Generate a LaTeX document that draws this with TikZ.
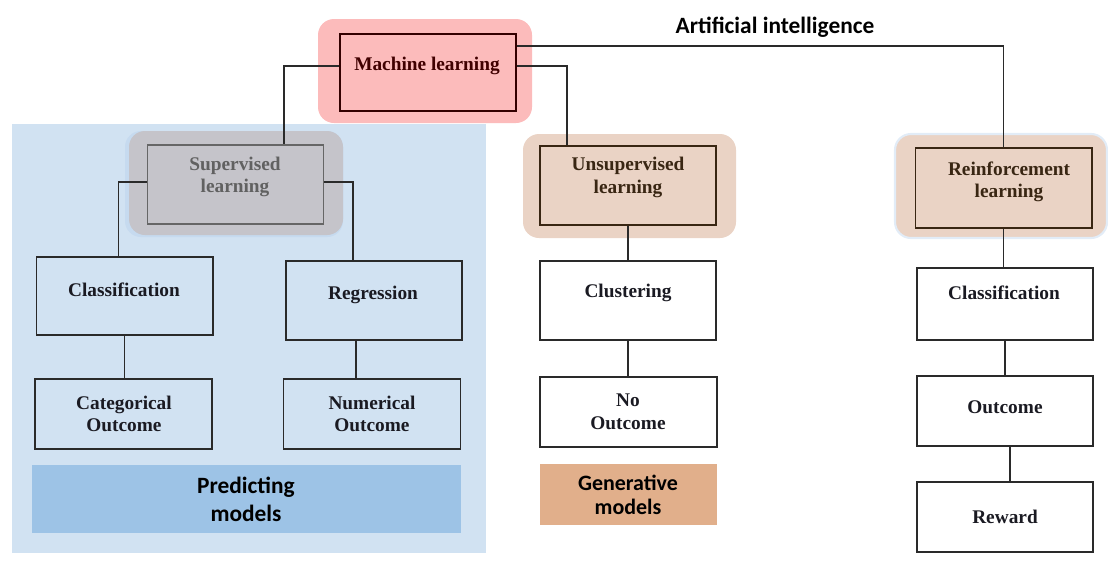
\documentclass[tikz,border=0pt]{standalone}
\usepackage{fontspec}
\setmainfont{Liberation Serif}
\newfontfamily\calibri{Carlito}
\usetikzlibrary{fit}
\usepackage{xcolor}

\definecolor{bgblue}{HTML}{D1E2F2}
\definecolor{predblue}{HTML}{9DC3E6}
\definecolor{genorange}{HTML}{E1AF8B}
\definecolor{pinkglow}{HTML}{FCBBBB}
\definecolor{grayglow}{HTML}{C5C4CA}
\definecolor{tanglow}{HTML}{EAD3C5}
\definecolor{edgeblue}{HTML}{E2ECF7}
\definecolor{shadeblue}{HTML}{C6DAEF}
\definecolor{boxline}{HTML}{2A2A2A}
\definecolor{txtdark}{HTML}{1A1A22}

\begin{document}
\begin{tikzpicture}[x=0.02cm, y=-0.02cm,
  box/.style={draw=boxline, line width=0.8pt, inner sep=0pt},
  lbl/.style={font=\fontsize{11}{12.8}\selectfont\bfseries, align=center, text=txtdark},
  sans/.style={font=\calibri\fontsize{13.3}{16}\selectfont\bfseries, align=center, text=black},
  link/.style={draw=boxline, line width=0.7pt},
  glow/.style={rounded corners=0.32cm}]

\useasboundingbox (0,0) rectangle (1108,569);

% Predicting models area
\fill[bgblue] (12,124) rectangle (486,553);

% glows behind the three learning types
\fill[pinkglow, glow] (318,19) rectangle (532,123);
\fill[shadeblue, glow] (125,131) rectangle (343,237);
\fill[grayglow, glow] (129,131) rectangle (343,235);
\fill[tanglow, glow] (523,134) rectangle (736,238);
\fill[tanglow, glow, draw=edgeblue, line width=1.2pt] (895,134) rectangle (1107,238);

\node[sans] (ai) at (775,27) {Artificial intelligence};

% level 1 and 2
\node[box, draw=black!80!red, fill=pinkglow, fit={(340,34) (516,111)}] (ml) {};
\node[lbl, text=black!75!red] (mlT) at (427,66) {Machine learning};

\node[box, draw=black!60, fill=grayglow, fit={(147.5,145) (323.5,224)}] (sup) {};
\node[lbl, text=black!62] (supT) at (235,177) {Supervised\\learning};

\node[box, draw=black!70!brown, fill=tanglow, fit={(540,146) (716,225)}] (uns) {};
\node[lbl, text=black!70!brown] (unsT) at (628,177.5) {Unsupervised\\learning};

\node[box, draw=black!70!brown, fill=tanglow, fit={(915.5,148) (1092,228)}] (rl) {};
\node[lbl, text=black!70!brown] (rlT) at (1009,182) {Reinforcement\\learning};

% supervised branch
\node[box, fit={(36.5,257) (213,335)}] (cls) {};
\node[lbl] (clsT) at (124,290) {Classification};
\node[box, fit={(286,261) (462,340)}] (reg) {};
\node[lbl] (regT) at (373,295) {Regression};
\node[box, fit={(35,379) (212,449)}] (cat) {};
\node[lbl] (catT) at (124,414) {Categorical\\Outcome};
\node[box, fit={(283.5,379) (460.5,449)}] (num) {};
\node[lbl] (numT) at (372,414) {Numerical\\Outcome};
\node[fill=predblue, inner sep=0pt, fit={(32,465) (460.5,533)}] (pred) {};
\node[sans] (predT) at (246,499) {Predicting\\models};

% unsupervised branch
\node[box, fit={(540,261) (716,340)}] (clu) {};
\node[lbl] (cluT) at (628,293) {Clustering};
\node[box, fit={(540,377) (717,447)}] (noo) {};
\node[lbl] (nooT) at (628,412) {No\\Outcome};
\node[fill=genorange, inner sep=0pt, fit={(540,464) (717,525)}] (gen) {};
\node[sans, font=\calibri\fontsize{12.5}{14}\selectfont\bfseries] (genT) at (628,495) {Generative\\models};

% reinforcement branch
\node[box, fit={(917,268) (1093,340)}] (rcls) {};
\node[lbl] (rclsT) at (1004,293) {Classification};
\node[box, fit={(917,376) (1093,446)}] (out) {};
\node[lbl] (outT) at (1005,407) {Outcome};
\node[box, fit={(917,482) (1093,552)}] (rew) {};
\node[lbl] (rewT) at (1005,517) {Reward};

% connectors
\draw[link] ([yshift=0.13cm]ml.west) -| ([xshift=0.97cm]sup.north);
\draw[link] ([yshift=0.13cm]ml.east) -| ([xshift=-1.22cm]uns.north);
\draw[link] ([yshift=0.53cm]ml.east) -| (rl.north);
\draw[link] ([yshift=0.05cm]sup.west) -| ([xshift=-0.13cm]cls.north);
\draw[link] ([yshift=0.05cm]sup.east) -| ([xshift=-0.42cm]reg.north);
\draw[link] (cls.south) -- (cls.south |- cat.north);
\draw[link] ([xshift=-0.36cm]reg.south) -- ([xshift=-0.36cm]reg.south |- num.north);
\draw[link] (uns.south) -- (uns.south |- clu.north);
\draw[link] (clu.south) -- (clu.south |- noo.north);
\draw[link] (rl.south) -- (rl.south |- rcls.north);
\draw[link] (rcls.south) -- (rcls.south |- out.north);
\draw[link] ([xshift=0.1cm]out.south) -- ([xshift=0.1cm]out.south |- rew.north);

\end{tikzpicture}
\end{document}
